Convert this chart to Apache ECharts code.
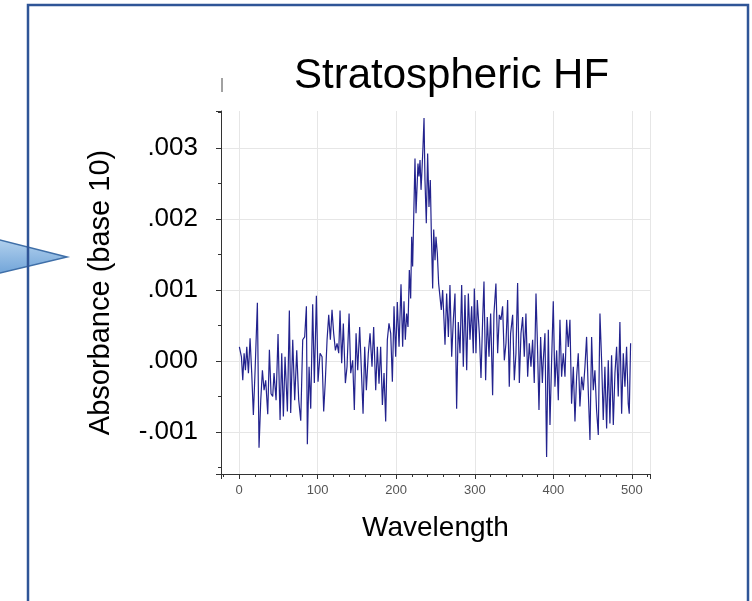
<!DOCTYPE html>
<html>
<head>
<meta charset="UTF-8">
<title>Stratospheric HF</title>
<script src="https://cdn.jsdelivr.net/npm/echarts@6/dist/echarts.min.js"></script>
<style>
  html, body { margin: 0; padding: 0; background: #fff; }
  #main { width: 752px; height: 601px; }
</style>
</head>
<body>
<div id="main"></div>
<script>
// wavelength samples and absorbance (in units of 0.001)
var wavelength = [
  0.4, 3.0, 4.7, 6.4, 8.1, 9.8, 11.9, 14.0, 16.1, 18.2, 20.4, 23.3, 25.4, 27.6, 29.7, 31.8, 33.9, 36.5, 38.6, 40.7,
  42.8, 44.5, 47.1, 49.6, 52.2, 54.3, 56.4, 58.5, 61.5, 64.0, 65.7, 68.3, 70.8, 73.4, 75.9, 78.5, 81.0, 83.5, 85.7, 86.9,
  89.1, 91.2, 93.7, 95.8, 98.4, 100.5, 103.1, 105.6, 107.7, 109.8, 112.0, 114.1, 116.2, 118.3, 120.4, 122.6, 124.7, 126.8, 128.5, 130.6,
  132.7, 135.3, 137.4, 140.0, 142.1, 144.6, 146.7, 148.9, 151.0, 153.5, 155.6, 157.8, 159.9, 162.0, 164.5, 166.7, 169.2, 171.3, 173.9, 176.0,
  178.1, 180.2, 182.4, 184.5, 186.6, 188.7, 190.8, 193.0, 195.1, 197.2, 199.3, 201.4, 203.6, 206.1, 208.2, 209.9, 211.6, 213.3, 215.0, 216.7,
  218.4, 219.7, 220.9, 222.2, 223.9, 225.2, 226.5, 227.7, 229.0, 230.3, 231.6, 232.8, 234.1, 235.4, 236.6, 238.3, 240.0, 241.7, 243.4, 244.7,
  246.4, 247.7, 249.4, 250.6, 252.3, 254.0, 255.7, 257.4, 259.1, 260.8, 262.1, 264.2, 266.4, 268.4, 270.6, 272.7, 274.8, 276.9, 279.0, 281.2,
  283.3, 285.4, 287.5, 289.7, 291.8, 293.9, 296.0, 298.1, 299.4, 301.5, 303.2, 305.8, 307.9, 310.0, 311.7, 313.8, 315.9, 318.1, 320.2, 322.7,
  324.4, 326.9, 329.1, 331.2, 333.3, 335.4, 337.6, 339.7, 341.8, 343.9, 345.6, 348.2, 350.3, 352.4, 354.5, 356.7, 358.8, 360.9, 363.0, 365.1,
  367.3, 369.4, 371.5, 373.6, 375.7, 377.9, 379.6, 381.7, 383.8, 386.0, 387.2, 389.3, 391.4, 393.6, 395.7, 397.8, 399.9, 402.0, 404.2, 406.3,
  408.4, 410.5, 412.6, 414.8, 416.9, 419.0, 421.1, 423.2, 425.4, 427.5, 429.6, 431.7, 433.8, 436.0, 438.1, 440.2, 442.3, 444.4, 446.6, 448.7,
  450.8, 452.9, 455.0, 457.2, 459.3, 461.4, 463.5, 465.6, 467.8, 469.9, 472.0, 474.1, 476.3, 478.4, 480.5, 482.6, 484.7, 486.9, 489.0, 491.1,
  493.2, 495.3, 496.6, 498.3
];
var absorbance = [
  0.20, 0.06, -0.27, 0.11, -0.13, 0.20, -0.17, 0.32, -0.17, -0.76, -0.13, 0.82, -1.22, -0.55, -0.13, -0.41, -0.27, -0.75, 0.16, -0.46,
  -0.50, -0.17, -0.55, 0.38, -0.83, 0.11, -0.78, 0.06, -0.71, 0.71, -0.73, 0.30, -0.55, 0.15, -0.55, -0.84, 0.30, 0.34, 0.77, -1.17,
  -0.08, -0.67, 0.80, -0.31, 0.92, -0.29, 0.11, 0.06, -0.71, -0.27, 0.30, 0.65, 0.30, 0.72, 0.39, 0.15, 0.25, 0.11, 0.71, -0.03,
  0.53, -0.31, -0.08, 0.67, -0.17, 0.01, -0.69, 0.39, -0.13, 0.48, 0.48, -0.74, 0.20, -0.41, 0.11, 0.39, -0.08, 0.48, -0.41, 0.20,
  -0.32, 0.20, -0.62, -0.17, -0.85, 0.30, 0.53, 0.39, -0.29, 0.77, 0.06, 0.83, 0.20, 1.08, 0.20, 0.84, 0.30, 0.67, 0.48, 1.28,
  0.88, 1.75, 1.33, 1.99, 2.85, 2.08, 2.08, 2.78, 2.60, 2.83, 2.41, 2.69, 3.02, 3.42, 2.55, 1.94, 2.92, 2.17, 2.55, 1.80,
  1.02, 1.85, 1.42, 1.75, 1.52, 1.09, 1.09, 0.72, 1.00, 0.58, 0.23, 0.95, 0.34, 1.07, 0.06, 0.58, 0.95, -0.67, 0.55, 0.11,
  1.07, -0.08, 0.93, -0.13, 0.95, 0.30, 0.77, 0.11, 1.02, 0.11, 0.86, 0.39, -0.24, 0.58, 1.12, -0.27, 0.62, 0.06, 0.67, -0.48,
  0.67, 1.09, 0.11, 0.65, 0.58, 0.77, 0.01, 0.25, 0.86, -0.36, 0.39, 0.65, -0.27, 0.11, 1.10, -0.31, 0.39, 0.62, 0.06, 0.67,
  -0.22, 0.25, -0.08, 0.30, -0.31, 0.95, 0.30, -0.69, 0.34, -0.31, 0.01, 0.39, -1.35, 0.44, -0.90, 0.01, 0.84, -0.36, 0.15, -0.55,
  0.58, -0.22, 0.11, -0.22, 0.58, 0.20, 0.58, -0.60, -0.08, -0.85, -0.22, 0.11, -0.64, -0.22, -0.41, -0.08, 0.34, -0.41, -1.11, 0.34,
  -0.41, -0.13, -0.69, -1.04, 0.67, 0.01, -0.83, -0.08, -0.95, 0.01, -0.88, 0.08, -0.90, -0.17, 0.20, -0.50, 0.55, -0.74, 0.11, -0.36,
  0.20, -0.60, -0.74, 0.25
];
var xRange = [-23, 523];
var yRange = [-1.59, 3.52];

var points = [];
for (var i = 0; i < wavelength.length; i++) {
    points.push([wavelength[i], absorbance[i]]);
}

var myChart = echarts.init(document.getElementById('main'));
var option = {
    animation: false,
    title: {
        text: 'Stratospheric HF',
        left: 289,
        top: 50,
        textStyle: { fontFamily: 'Liberation Sans', fontSize: 42, fontWeight: 'normal', color: '#000' }
    },
    grid: { left: 221, right: 102, top: 111, bottom: 127 },
    xAxis: {
        type: 'value',
        min: xRange[0],
        max: xRange[1],
        minInterval: 100,
        maxInterval: 100,
        name: 'Wavelength',
        nameLocation: 'middle',
        nameGap: 40,
        nameTextStyle: { fontFamily: 'Liberation Sans', fontSize: 28, color: '#000' },
        axisLine: { onZero: false, lineStyle: { color: '#333', width: 1 } },
        axisTick: { length: 5, lineStyle: { color: '#333' } },
        minorTick: { show: true, splitNumber: 5, length: 3, lineStyle: { color: '#333' } },
        axisLabel: {
            margin: 10, showMinLabel: false, showMaxLabel: false,
            fontFamily: "'Liberation Sans Narrow', 'Liberation Sans'", fontSize: 13, color: '#555'
        },
        splitLine: { show: true, showMinLine: false, showMaxLine: true, lineStyle: { color: '#e6e6e6' } }
    },
    yAxis: {
        type: 'value',
        min: yRange[0],
        max: yRange[1],
        minInterval: 1,
        maxInterval: 1,
        name: 'Absorbance (base 10)',
        nameLocation: 'middle',
        nameGap: 106,
        nameTextStyle: { fontFamily: 'Liberation Sans', fontSize: 29, color: '#000' },
        axisLine: { show: true, onZero: false, lineStyle: { color: '#333', width: 1 } },
        axisTick: { show: true, length: 5, lineStyle: { color: '#333' } },
        minorTick: { show: true, splitNumber: 2, length: 3, lineStyle: { color: '#333' } },
        axisLabel: {
            margin: 23, showMinLabel: false, showMaxLabel: false,
            fontFamily: 'Liberation Sans', fontSize: 26, color: '#000',
            formatter: function (v) {
                return (v < 0 ? '-' : '') + '.00' + Math.abs(Math.round(v));
            }
        },
        splitLine: { show: true, showMinLine: false, showMaxLine: false, lineStyle: { color: '#e6e6e6' } }
    },
    series: [{
        type: 'line',
        data: points,
        showSymbol: false,
        lineStyle: { color: '#23238e', width: 1.2 }
    }],
    graphic: [
        {
            // callout pointer on the left
            type: 'polygon',
            shape: { points: [[-4, 239], [67, 257], [-4, 274]] },
            style: {
                fill: new echarts.graphic.LinearGradient(0, 0, 0, 1, [
                    { offset: 0, color: '#b4d2ee' },
                    { offset: 1, color: '#6fa3d8' }
                ]),
                stroke: '#3f6fa8',
                lineWidth: 1.5
            }
        },
        {
            type: 'rect',
            shape: { x: 28, y: 5, width: 720, height: 610 },
            style: { fill: null, stroke: '#2f5597', lineWidth: 2.5 }
        },
        {
            type: 'line',
            shape: { x1: 222, y1: 78, x2: 222, y2: 92 },
            style: { stroke: '#444', lineWidth: 1 }
        }
    ]
};
myChart.setOption(option);
</script>
</body>
</html>
